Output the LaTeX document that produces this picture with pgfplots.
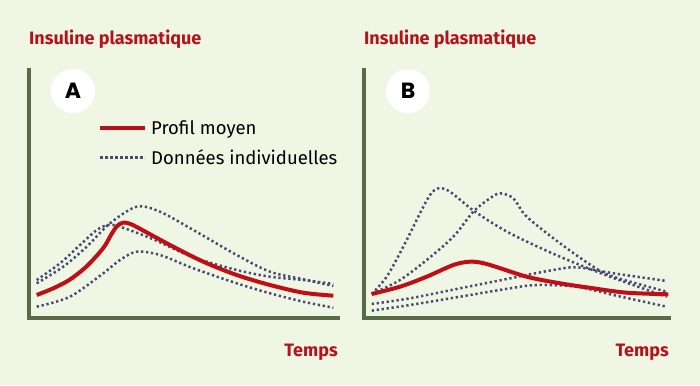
\documentclass[border=0pt]{standalone}
\usepackage{pgfplots}
\pgfplotsset{compat=1.18}
\usepackage{fontspec}
\setmainfont{Fira Sans}
\newfontfamily\letterfont{Poppins}[BoldFont={* Bold}]
\definecolor{bg}{RGB}{239,247,228}
\definecolor{axisgreen}{RGB}{88,106,70}
\definecolor{titlered}{RGB}{181,18,27}
\definecolor{linered}{RGB}{192,14,22}
\definecolor{dotcol}{RGB}{72,74,115}
\pgfplotsset{
  panel/.style={
    scale only axis, width=#1, height=248bp,
    ymin=0, ymax=248,
    axis lines=left,
    axis line style={-, line width=3.5bp, color=axisgreen, line cap=rect},
    xtick=\empty, ytick=\empty, clip=false,
  },
  dotsty/.style={color=dotcol, line width=2.5bp, dash pattern=on 2.3bp off 2.7bp, smooth, no marks},
  redsty/.style={color=linered, line width=4bp, smooth, no marks},
}
\begin{document}
\begin{tikzpicture}[x=1bp,y=1bp]
\fill[bg] (0,0) rectangle (700,385);
% ---------------- Panel A
\begin{axis}[panel=309bp, at={(29bp,67bp)}, anchor=south west, xmin=0, xmax=309,
  legend style={draw=none, fill=none, at={(axis cs:69,200)}, anchor=north west,
    font=\fontsize{18.5bp}{22bp}\selectfont, row sep=10bp, inner sep=0pt,
    nodes={inner sep=2bp}},
  legend cell align=left,
  legend image code/.code={\draw[#1] (0bp,0bp) -- (45bp,0bp);},
]
\addlegendimage{color=linered, line width=4bp}
\addlegendentry{\hspace{2bp}Profil moyen}
\addlegendimage{color=dotcol, line width=2.5bp, dash pattern=on 2.3bp off 2.7bp}
\addlegendentry{\hspace{2bp}Données individuelles}
\addplot[dotsty, forget plot] coordinates {(7.7,11.3) (41,21.3) (74.3,44.7) (91,58) (107.7,66.3) (131,63) (164.3,49.7) (207.7,34.7) (241,24.7) (274.3,16.3) (304.3,10.3)};
\addplot[dotsty, forget plot] coordinates {(7.7,34.7) (34.3,51.3) (57.7,71.3) (81,94.7) (107.7,111.3) (131,106.3) (164.3,88) (207.7,63) (241,46.3) (274.3,38.7) (304.3,32)};
\addplot[dotsty, forget plot] coordinates {(7.7,38) (31,54.7) (51,73) (67.7,88) (79.3,93) (91,91.3) (124.3,78.7) (164.3,60.7) (207.7,48) (241,41.3) (274.3,38) (304.3,34)};
\addplot[redsty, forget plot] coordinates {(7.7,23) (25,30) (41,38.5) (58,52) (74.3,70) (82,83) (88,92) (94,95.3) (100,94.5) (107.7,91) (141,73) (174.3,56.3) (207.7,43) (241,33) (274.3,25.3) (304.3,22.3)};
\node[circle, fill=white, minimum size=44bp, inner sep=0pt, font=\letterfont\bfseries\fontsize{22bp}{24bp}\selectfont] at (axis cs:44,227) {A};
\node[anchor=base west, inner sep=0pt, text=titlered, font=\bfseries\fontsize{18bp}{20bp}\selectfont] at (axis cs:0,273) {Insuline plasmatique};
\node[anchor=base east, inner sep=0pt, text=titlered, font=\bfseries\fontsize{18bp}{20bp}\selectfont] at (axis cs:309,-38) {Temps};
\end{axis}
% ---------------- Panel B
\begin{axis}[panel=305bp, at={(364bp,67bp)}, anchor=south west, xmin=0, xmax=305]
\addplot[dotsty] coordinates {(7.7,7.3) (46,13) (96,21.3) (146,29.7) (172.7,33) (212.7,31.3) (249.3,23) (302.7,11.3)};
\addplot[dotsty] coordinates {(7.7,14) (46,19.7) (96,29.7) (129.3,36.3) (162.7,43) (189.3,48) (212.7,50.7) (249.3,44.7) (302.7,37)};
\addplot[dotsty] coordinates {(7.7,24) (22.7,41.3) (39.3,71.3) (56,104.7) (66,123) (74.3,129.7) (86,126.3) (111,106.3) (146,84.7) (196,61.3) (246,41.3) (302.7,21.3)};
\addplot[dotsty] coordinates {(7.7,24) (36,38) (62.7,58) (89.3,81.3) (109.3,106.3) (126,119.7) (136,124.7) (149.3,119.7) (162.7,101.3) (196,74.7) (229.3,51.3) (249.3,41.3) (302.7,26.3)};
\addplot[redsty] coordinates {(7.7,24) (36,31.3) (62.7,41.3) (89.3,53) (106,56.3) (122.7,54) (162.7,41.3) (196,34.7) (229.3,29.7) (262.7,25.3) (304.3,23.7)};
\node[circle, fill=white, minimum size=44bp, inner sep=0pt, font=\letterfont\bfseries\fontsize{22bp}{24bp}\selectfont] at (axis cs:44,227) {B};
\node[anchor=base west, inner sep=0pt, text=titlered, font=\bfseries\fontsize{18bp}{20bp}\selectfont] at (axis cs:0,273) {Insuline plasmatique};
\node[anchor=base east, inner sep=0pt, text=titlered, font=\bfseries\fontsize{18bp}{20bp}\selectfont] at (axis cs:305,-38) {Temps};
\end{axis}
\end{tikzpicture}
\end{document}
